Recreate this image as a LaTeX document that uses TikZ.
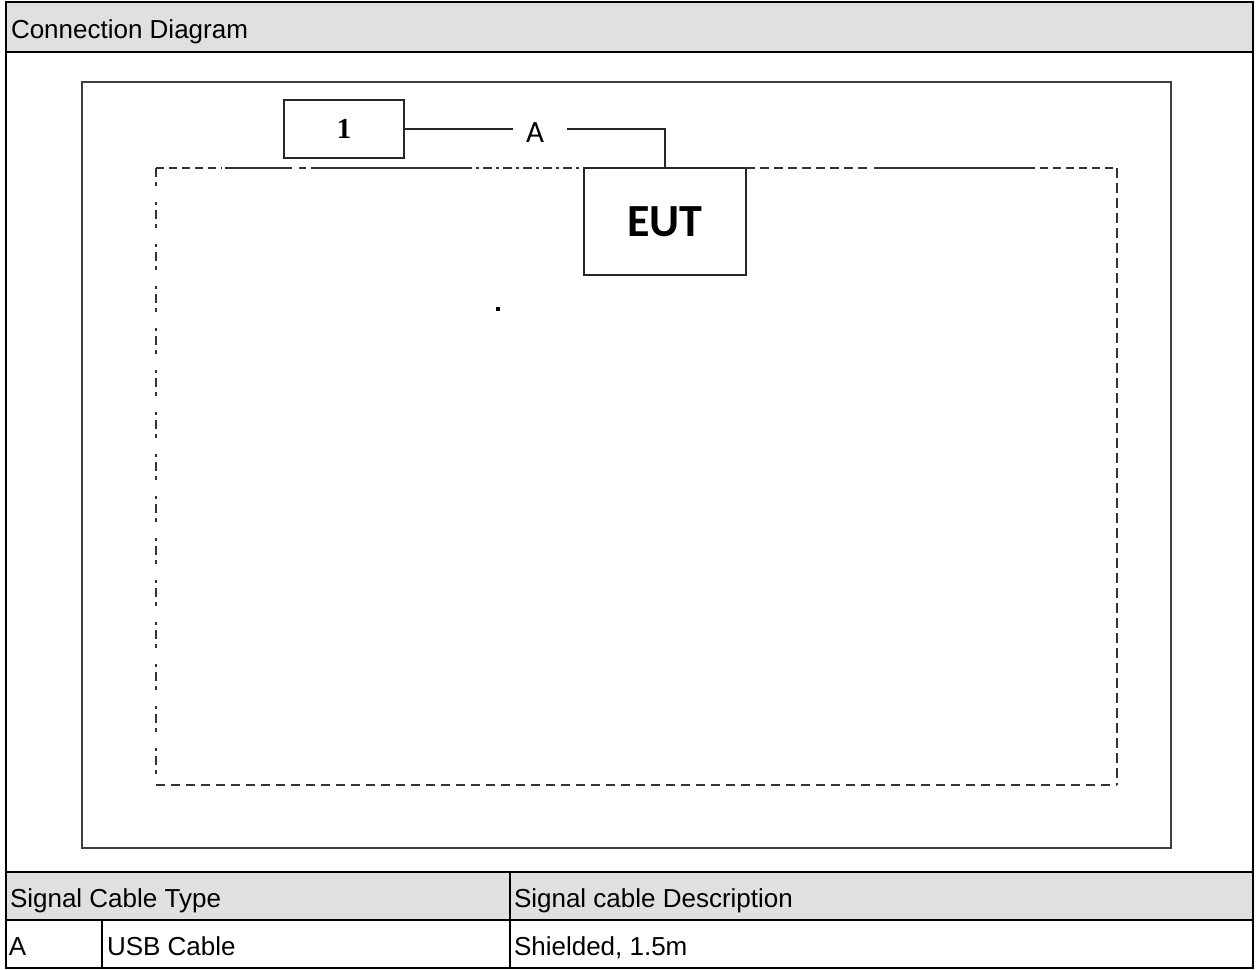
\documentclass[tikz,border=0pt]{standalone}
\usepackage{fontspec}
\setmainfont{Liberation Sans}
\newfontfamily\eutfont{Carlito}
\newfontfamily\numfont{Liberation Serif}
\usetikzlibrary{positioning}
\definecolor{hdrgray}{RGB}{224,224,224}
\definecolor{framegray}{RGB}{64,64,64}

\begin{document}
\begin{tikzpicture}[
  x=1pt, y=-1pt,
  every node/.style={inner sep=0pt, outer sep=0pt},
  cell/.style={font=\fontsize{26}{30}\selectfont, anchor=base west},
  unitbox/.style={draw=black!85, line width=1.8pt, minimum width=120pt, minimum height=58pt,
    font=\numfont\bfseries\fontsize{29}{32}\selectfont},
  eutbox/.style={draw=black!85, line width=1.6pt, minimum width=162pt, minimum height=107pt,
    font=\eutfont\bfseries\fontsize{46}{50}\selectfont},
  wire/.style={line width=1.7pt, black!85},
  border/.style={line width=2.4pt, black},
  fence/.style={line width=1.8pt, black!80},
]
  \useasboundingbox (0,0) rectangle (1258,969);

  % Header and table backgrounds
  \fill[hdrgray] (6,2) rectangle (1253,52);
  \fill[hdrgray] (6,872) rectangle (1253,920);

  % Table rules
  \draw[border] (6,2) rectangle (1253,968);
  \draw[border] (6,52) -- (1253,52);
  \draw[border] (6,872) -- (1253,872);
  \draw[border] (6,920) -- (1253,920);
  \draw[border] (510,872) -- (510,968);
  \draw[border] (102,920) -- (102,968);

  % Texts
  \node[cell] (title)   at (11,38)   {Connection Diagram};
  \node[cell] (hdrtype) at (10,907)  {Signal Cable Type};
  \node[cell] (hdrdesc) at (514,907) {Signal cable Description};
  \node[cell] (rowid)   at (9,955)   {A};
  \node[cell] (rowtype) at (107,955) {USB Cable};
  \node[cell] (rowdesc) at (514,955) {Shielded, 1.5m};

  % Test site frame
  \draw[line width=2.2pt, framegray] (82,82) rectangle (1171,848);

  % Units
  \node[unitbox] (unit1) at (344,129)   {1};
  \node[eutbox]  (eut)   at (665,221.5) {EUT};
  \node[font=\eutfont\fontsize{31}{34}\selectfont] (cabA) at (535,133) {A};

  % Cable A
  \draw[wire] (unit1.east) -- ([xshift=-13pt]unit1.east -| cabA.west);
  \draw[wire] ([xshift=23pt]unit1.east -| cabA.east) -| (eut.north);

  % Table boundary
  \coordinate (fnw) at (156,168);
  \coordinate (fne) at (1117,168);
  \coordinate (fse) at (1117,785);
  \coordinate (fsw) at (156,785);
  \draw[fence, dash pattern=on 8pt off 5pt] (fnw) -- (222,168);
  \draw[fence] (225,168) -- (292,168);
  \draw[fence] (299,168) -- (306,168);
  \draw[fence] (311,168) -- (463,168);
  \draw[fence, dash pattern=on 9pt off 4pt on 3pt off 4pt] (463,168) -- (eut.north west);
  \draw[fence, dash pattern=on 9pt off 5pt] (eut.north east) -- (872,168);
  \draw[fence] (874,168) -- (1027,168);
  \draw[fence, dash pattern=on 8pt off 5pt] (1027,168) -- (fne);
  \draw[fence, dash pattern=on 10pt off 5pt] (fne) -- (fse);
  \draw[fence, dash pattern=on 9pt off 6pt] (fsw) -- (fse);
  \draw[fence, dash pattern=on 9pt off 5pt on 4pt off 16pt on 3pt off 5pt] (fnw) -- (fsw);

  % Marker
  \fill (496,307) rectangle (500,311);
\end{tikzpicture}
\end{document}
